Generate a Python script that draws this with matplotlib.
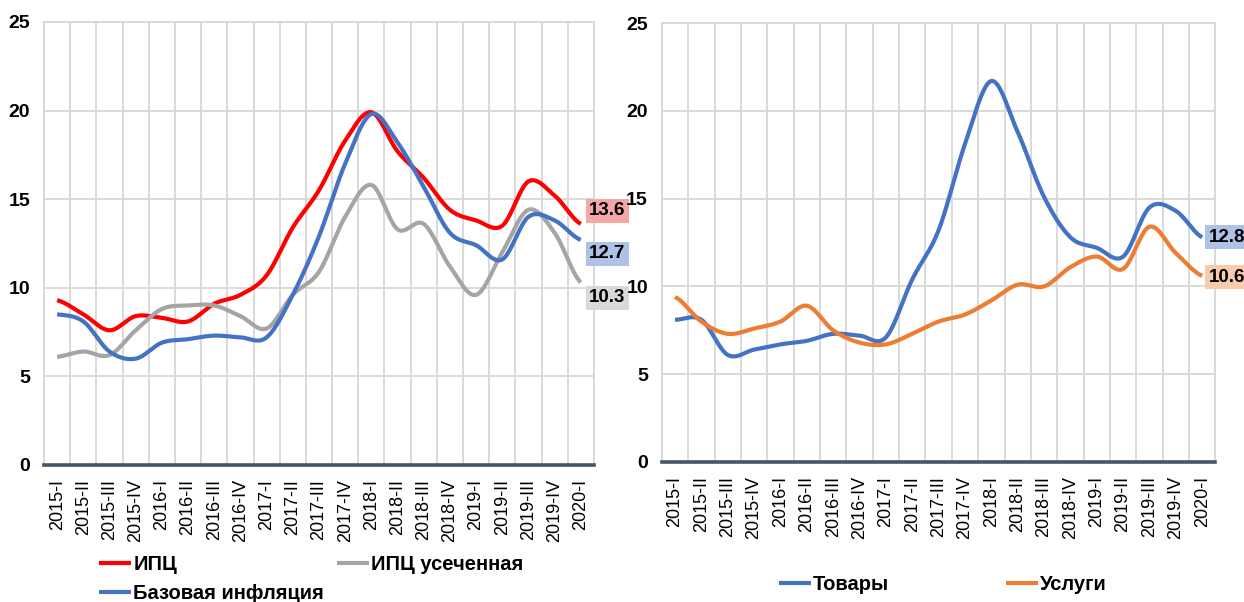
import numpy as np
import matplotlib
matplotlib.use("Agg")
import matplotlib.pyplot as plt

plt.rcParams['font.family'] = ['Liberation Sans', 'DejaVu Sans']

quarters = ['2015-I', '2015-II', '2015-III', '2015-IV',
            '2016-I', '2016-II', '2016-III', '2016-IV',
            '2017-I', '2017-II', '2017-III', '2017-IV',
            '2018-I', '2018-II', '2018-III', '2018-IV',
            '2019-I', '2019-II', '2019-III', '2019-IV', '2020-I']

# left panel
cpi = [9.3, 8.5, 7.6, 8.4, 8.3, 8.1, 9.1, 9.6, 10.7, 13.4, 15.5, 18.3,
       19.9, 17.7, 16.2, 14.4, 13.8, 13.5, 16.0, 15.2, 13.6]
cpi_trim = [6.1, 6.4, 6.2, 7.6, 8.8, 9.0, 9.0, 8.4, 7.7, 9.6, 10.9, 14.0,
            15.8, 13.3, 13.6, 11.2, 9.6, 12.0, 14.4, 13.1, 10.3]
core = [8.5, 8.1, 6.4, 6.0, 6.9, 7.1, 7.3, 7.2, 7.2, 9.6, 12.9, 17.0,
        19.8, 18.2, 15.7, 13.1, 12.4, 11.6, 14.0, 13.8, 12.7]

# right panel
goods = [8.1, 8.1, 6.1, 6.4, 6.7, 6.9, 7.3, 7.2, 7.1, 10.4, 13.2, 18.1,
         21.7, 18.8, 15.1, 12.8, 12.2, 11.7, 14.5, 14.3, 12.8]
services = [9.4, 8.0, 7.3, 7.6, 8.0, 8.9, 7.5, 6.8, 6.7, 7.3, 8.0, 8.4,
            9.2, 10.1, 10.0, 11.1, 11.7, 11.0, 13.4, 11.9, 10.6]


def smooth(y, n=24):
    # Catmull-Rom curve through the points, like Excel "smoothed line"
    y = np.asarray(y, dtype=float)
    xs, ys = [], []
    for i in range(len(y) - 1):
        p0 = y[i - 1] if i > 0 else y[i]
        p1, p2 = y[i], y[i + 1]
        p3 = y[i + 2] if i + 2 < len(y) else y[i + 1]
        t = np.linspace(0, 1, n, endpoint=False)
        yy = 0.5 * ((2 * p1) + (-p0 + p2) * t + (2 * p0 - 5 * p1 + 4 * p2 - p3) * t ** 2
                    + (-p0 + 3 * p1 - 3 * p2 + p3) * t ** 3)
        xs.append(i + t)
        ys.append(yy)
    xs.append([len(y) - 1])
    ys.append([y[-1]])
    return np.concatenate(xs), np.concatenate(ys)


def style_axes(ax):
    x = np.arange(len(quarters))
    ax.set_xlim(-0.5, len(quarters) - 0.5)
    ax.set_ylim(0, 25)
    ax.set_yticks([0, 5, 10, 15, 20, 25])
    ax.set_xticks(x)
    ax.set_xticklabels(quarters, rotation=90, fontsize=13)
    ax.set_xticks(x[:-1] + 0.5, minor=True)
    ax.tick_params(axis='both', which='both', length=0)
    ax.tick_params(axis='x', pad=10)
    ax.tick_params(axis='y', pad=10, labelsize=14)
    for t in ax.get_yticklabels():
        t.set_fontweight('bold')
    ax.grid(axis='y', color='#d9d9d9', lw=1.4)
    ax.grid(axis='x', which='minor', color='#d9d9d9', lw=1.4)
    ax.set_axisbelow(True)
    for s in ['top', 'right', 'left']:
        ax.spines[s].set_color('#d9d9d9')
        ax.spines[s].set_linewidth(1.4)
    ax.spines['bottom'].set_color('#44546a')
    ax.spines['bottom'].set_linewidth(2.6)
    ax.spines['bottom'].set_zorder(5)


def end_label(ax, series, fc, dx, dy):
    ax.annotate(f'{series[-1]:.1f}', xy=(len(series) - 1, series[-1]),
                xytext=(dx, dy), textcoords='offset points',
                ha='left', va='center', fontsize=13.5, fontweight='bold',
                bbox=dict(boxstyle='square,pad=0.18', fc=fc, ec='none'),
                annotation_clip=False, zorder=6)


fig = plt.figure(figsize=(12.44, 6.02), dpi=100)
ax1 = fig.add_axes([0.0354, 0.2276, 0.442, 0.736])
ax2 = fig.add_axes([0.532, 0.2326, 0.445, 0.729])

style_axes(ax1)
l_cpi, = ax1.plot(*smooth(cpi), color='#ff0000', lw=3, label='ИПЦ', solid_capstyle='butt')
l_trim, = ax1.plot(*smooth(cpi_trim), color='#a5a5a5', lw=3, label='ИПЦ усеченная', solid_capstyle='butt')
l_core, = ax1.plot(*smooth(core), color='#4472c4', lw=3, label='Базовая инфляция', solid_capstyle='butt')
end_label(ax1, cpi, '#f4a7a7', 6, 9.5)
end_label(ax1, core, '#adc2e6', 6, -10)
end_label(ax1, cpi_trim, '#d9d9d9', 6, -11)
ax1.legend(handles=[l_cpi, l_core, l_trim], ncol=2, loc='center left',
           bbox_to_anchor=(0.1, -0.257), frameon=False,
           prop=dict(size=14.5, weight='bold'), handlelength=1.6,
           handletextpad=0.1, columnspacing=0.65, labelspacing=0.5,
           borderpad=0, borderaxespad=0)

style_axes(ax2)
l_goods, = ax2.plot(*smooth(goods), color='#4472c4', lw=3, label='Товары', solid_capstyle='butt')
l_serv, = ax2.plot(*smooth(services), color='#ed7d31', lw=3, label='Услуги', solid_capstyle='butt')
end_label(ax2, goods, '#adc2e6', 4.5, 0)
end_label(ax2, services, '#f8cbad', 4.5, -1)
ax2.legend(handles=[l_goods, l_serv], ncol=2, loc='center left',
           bbox_to_anchor=(0.211, -0.28), frameon=False,
           prop=dict(size=14.5, weight='bold'), handlelength=1.6,
           handletextpad=0.1, columnspacing=5.8,
           borderpad=0, borderaxespad=0)

fig.savefig('out.png', dpi=100)
